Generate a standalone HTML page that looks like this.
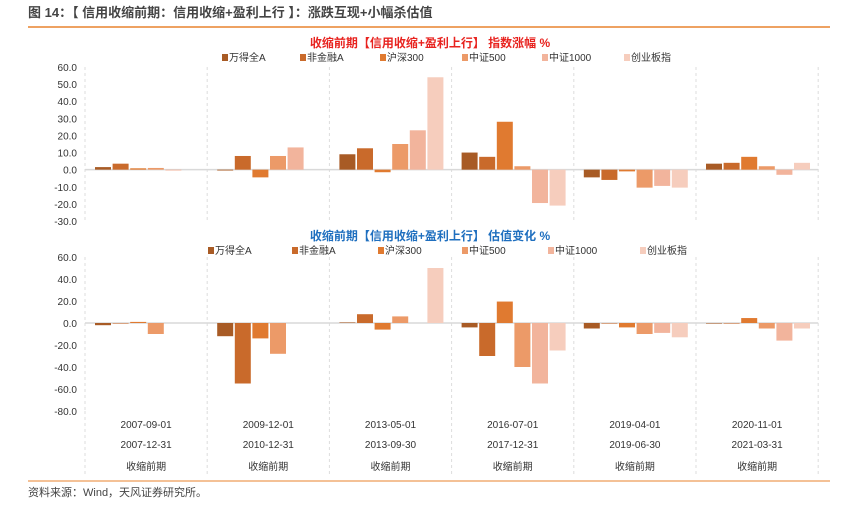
<!DOCTYPE html>
<html><head><meta charset="utf-8"><style>
body{margin:0;background:#fff;width:844px;height:504px;overflow:hidden;font-family:"Liberation Sans","Noto Sans CJK SC",sans-serif}
</style></head><body>
<svg width="844" height="504" xmlns="http://www.w3.org/2000/svg" font-family="Liberation Sans, Noto Sans CJK SC, sans-serif">
<text x="28" y="17" font-size="13" font-weight="bold" fill="#444">图 14：【 信用收缩前期：信用收缩+盈利上行 】：涨跌互现+小幅杀估值</text>
<line x1="28" y1="27" x2="830" y2="27" stroke="#e8832e" stroke-width="1.5"/>
<g id="top"></g><g id="bot"></g><g id="xl"></g>
<line x1="28" y1="481" x2="830" y2="481" stroke="#e8832e" stroke-width="1"/>
<text x="28" y="496" font-size="11" fill="#444">资料来源：Wind，天风证券研究所。</text>
</svg>
<script>
const series=["万得全A","非金融A","沪深300","中证500","中证1000","创业板指"];
const colors=["#a85b25","#c96a2b","#e07a30","#ec9a68","#f2b49c","#f6cdbd"];
const startDates=["2007-09-01","2009-12-01","2013-05-01","2016-07-01","2019-04-01","2020-11-01"];
const endDates=["2007-12-31","2010-12-31","2013-09-30","2017-12-31","2019-06-30","2021-03-31"];
const topTicks=[60,50,40,30,20,10,0,-10,-20,-30];
const botTicks=[60,40,20,0,-20,-40,-60,-80];
const topWdqA=[1.5,-0.5,9,10,-4.5,3.5];
const topFjr=[3.5,8,12.5,7.5,-6,4];
const topHs300=[0.8,-4.5,-1.5,28,-1,7.5];
const topZz500=[1,8,15,2,-10.5,2];
const topZz1000=[-0.5,13,23,-19.5,-9.5,-3];
const topCyb=[0,0,54,-21,-10.5,4];
const botWdqA=[-2,-12,0.5,-4,-5,-0.5];
const botFjr=[-0.5,-55,8,-30,-0.5,-0.5];
const botHs300=[1,-14,-6,19.5,-4,4.5];
const botZz500=[-10,-28,6,-40,-10,-5];
const botZz1000=[0,0,0,-55,-9,-16];
const botCyb=[0,0,50,-25,-13,-5];
const NS="http://www.w3.org/2000/svg";
function mk(p,t,a,txt){const e=document.createElementNS(NS,t);for(const k in a)e.setAttribute(k,a[k]);if(txt!=null)e.textContent=txt;p.appendChild(e);return e;}
const X0=85,GW=122.2;
function chart(gid,title,tcolor,ty,ly,legX,ticks,yTop,yBot,vals){
  const g=document.getElementById(gid);
  const max=ticks[0],min=ticks[ticks.length-1];
  const y=v=>yTop+(max-v)/(max-min)*(yBot-yTop);
  let t=mk(g,'text',{x:430,y:ty,'font-size':12,'font-weight':'bold',fill:tcolor,'text-anchor':'middle'},title);
  
  
  series.forEach((s,i)=>{
    let r=mk(g,'rect',{x:legX[i],y:ly-7,width:6,height:7,fill:colors[i]});
    
    
    let lt=mk(g,'text',{x:legX[i]+7,y:ly,'font-size':10,fill:'#333'},s);
    
    
  });
  ticks.forEach(v=>{
    let l=mk(g,'text',{x:77,y:y(v)+4,'font-size':10,fill:'#333','text-anchor':'end'},v.toFixed(1));
    
    
  });
  for(let k=0;k<=6;k++){
    let l=mk(g,'line',{x1:X0+k*GW,x2:X0+k*GW,y1:yTop,y2:yBot,stroke:'#ddd','stroke-dasharray':'3,3'});
    
    
  }
  let z=mk(g,'line',{x1:X0,x2:X0+6*GW,y1:y(0),y2:y(0),stroke:'#d9d9d9','stroke-width':1.5});
  
  
  vals.forEach((arr,si)=>{
    arr.forEach((v,gi)=>{
      if(v===0)return;
      const bx=X0+gi*GW+10+si*17.6;
      let b=mk(g,'rect',{x:bx,y:Math.min(y(v),y(0)),width:16,height:Math.abs(y(v)-y(0)),fill:colors[si]});
      
      
    });
  });
}
chart('top','收缩前期【信用收缩+盈利上行】  指数涨幅 %','#e8231f',47,61,[222,300,380,462,542,624],topTicks,67,221,[topWdqA,topFjr,topHs300,topZz500,topZz1000,topCyb]);
chart('bot','收缩前期【信用收缩+盈利上行】 估值变化 %','#1f6fbf',240,254,[208,292,378,462,548,640],botTicks,257,411,[botWdqA,botFjr,botHs300,botZz500,botZz1000,botCyb]);
const xl=document.getElementById('xl');
startDates.forEach((d,i)=>{
  const cx=X0+(i+0.5)*GW;
  let a=mk(xl,'text',{x:cx,y:428,'font-size':10,fill:'#333','text-anchor':'middle'},d);
  
  
  let b=mk(xl,'text',{x:cx,y:448,'font-size':10,fill:'#333','text-anchor':'middle'},endDates[i]);
  
  
  let c=mk(xl,'text',{x:cx,y:470,'font-size':10,fill:'#333','text-anchor':'middle'},'收缩前期');
  
  
});
for(let k=0;k<=6;k++){
  let l=mk(xl,'line',{x1:X0+k*GW,x2:X0+k*GW,y1:411,y2:476,stroke:'#ddd','stroke-dasharray':'3,3'});
  
  
}
</script>
</body></html>
